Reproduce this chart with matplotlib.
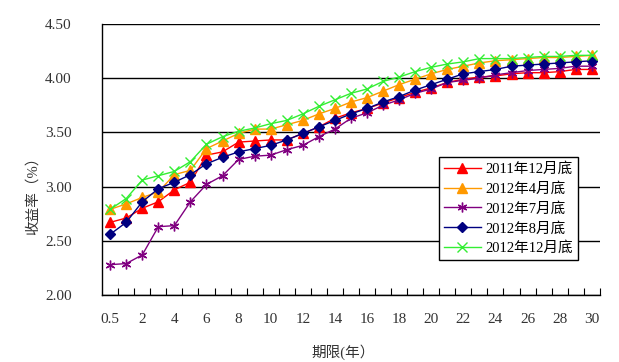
import numpy as np
import matplotlib
matplotlib.use('Agg')
from matplotlib import pyplot as plt

plt.rcParams['font.family'] = ['Liberation Serif', 'Noto Sans CJK SC']

terms = ['0.5'] + [str(i) for i in range(1, 31)]
tick_terms = ['0.5'] + [str(i) for i in range(2, 31, 2)]

dec2011 = [2.67, 2.71, 2.80, 2.86, 2.97, 3.04, 3.29, 3.32, 3.41, 3.42, 3.43, 3.43, 3.49, 3.55, 3.63, 3.68,
           3.72, 3.77, 3.82, 3.87, 3.91, 3.96, 3.99, 4.01, 4.02, 4.04, 4.05, 4.05, 4.06, 4.08, 4.08]
apr2012 = [2.79, 2.84, 2.90, 2.95, 3.11, 3.15, 3.35, 3.42, 3.49, 3.53, 3.53, 3.57, 3.61, 3.67, 3.72, 3.78,
           3.82, 3.88, 3.94, 3.99, 4.04, 4.08, 4.11, 4.14, 4.16, 4.17, 4.18, 4.19, 4.19, 4.20, 4.21]
jul2012 = [2.28, 2.29, 2.37, 2.63, 2.64, 2.86, 3.02, 3.10, 3.25, 3.28, 3.29, 3.34, 3.38, 3.46, 3.53, 3.63,
           3.68, 3.75, 3.80, 3.86, 3.90, 3.96, 3.98, 4.00, 4.03, 4.05, 4.07, 4.08, 4.09, 4.11, 4.11]
aug2012 = [2.56, 2.67, 2.86, 2.98, 3.04, 3.11, 3.21, 3.27, 3.32, 3.35, 3.38, 3.43, 3.49, 3.55, 3.61, 3.67,
           3.72, 3.78, 3.83, 3.89, 3.94, 3.99, 4.04, 4.06, 4.08, 4.11, 4.12, 4.13, 4.14, 4.15, 4.16]
dec2012 = [2.79, 2.89, 3.06, 3.10, 3.14, 3.23, 3.39, 3.46, 3.51, 3.54, 3.58, 3.61, 3.67, 3.74, 3.80, 3.86,
           3.90, 3.97, 4.01, 4.06, 4.10, 4.13, 4.15, 4.18, 4.18, 4.18, 4.19, 4.20, 4.20, 4.21, 4.21]

series = [
    ('2011年12月底', dec2011, '#FF0000', '^', 6.5),
    ('2012年4月底', apr2012, '#FF9900', '^', 6.5),
    ('2012年7月底', jul2012, '#800080', (6, 2, 0), 7),
    ('2012年8月底', aug2012, '#000080', 'D', 5),
    ('2012年12月底', dec2012, '#33EE33', 'x', 6.5),
]

fig = plt.figure(figsize=(6.19, 3.62), dpi=100)
ax = fig.add_axes([0.165, 0.185, 0.804, 0.749])

for name, vals, col, mk, ms in series:
    ax.plot(terms, vals, color=col, lw=1, marker=mk, markersize=ms,
            markerfacecolor=col, markeredgecolor=col, markeredgewidth=1, label=name)

ax.set_ylim(2.0, 4.5)
ax.set_xlim(-0.5, len(terms) - 0.5)
ax.set_yticks(np.arange(2.0, 4.51, 0.5))
ax.set_yticklabels([f'{v:.2f}' for v in np.arange(2.0, 4.51, 0.5)])
ax.yaxis.grid(True, color='black', lw=1)
ax.set_axisbelow(True)
ax.tick_params(axis='y', length=0, pad=22, labelsize=11, labelcolor='#333333')

# category boundaries as inward ticks, labels on every other category
ax.set_xticks(np.arange(0.5, len(terms), 1))
ax.set_xticklabels([])
ax.tick_params(axis='x', which='major', direction='in', length=5, color='black')
ax.set_xticks([terms.index(t) for t in tick_terms], minor=True)
ax.set_xticklabels(tick_terms, minor=True)
ax.tick_params(axis='x', which='minor', length=0, pad=13, labelsize=11, labelcolor='#333333')

for s in ['right', 'top']:
    ax.spines[s].set_visible(False)
for s in ['left', 'bottom']:
    ax.spines[s].set_color('black')
    ax.spines[s].set_linewidth(1)

leg = ax.legend(loc='upper left', bbox_to_anchor=(0.677, 0.509), borderaxespad=0,
                fancybox=False, edgecolor='black', fontsize=10.5, handlelength=2.5,
                labelspacing=0.42, handletextpad=0.3, borderpad=0.35, framealpha=1)
leg.get_frame().set_linewidth(1)

fig.text(33 / 619, 1 - 192 / 362, '收益率（%）', rotation=90, ha='center', va='center',
         fontsize=10.5, color='#333333')
fig.text(343 / 619, 1 - 352 / 362, '期限(年）', ha='center', va='center', fontsize=10.5,
         color='#333333')

fig.savefig('out.png', dpi=100)
